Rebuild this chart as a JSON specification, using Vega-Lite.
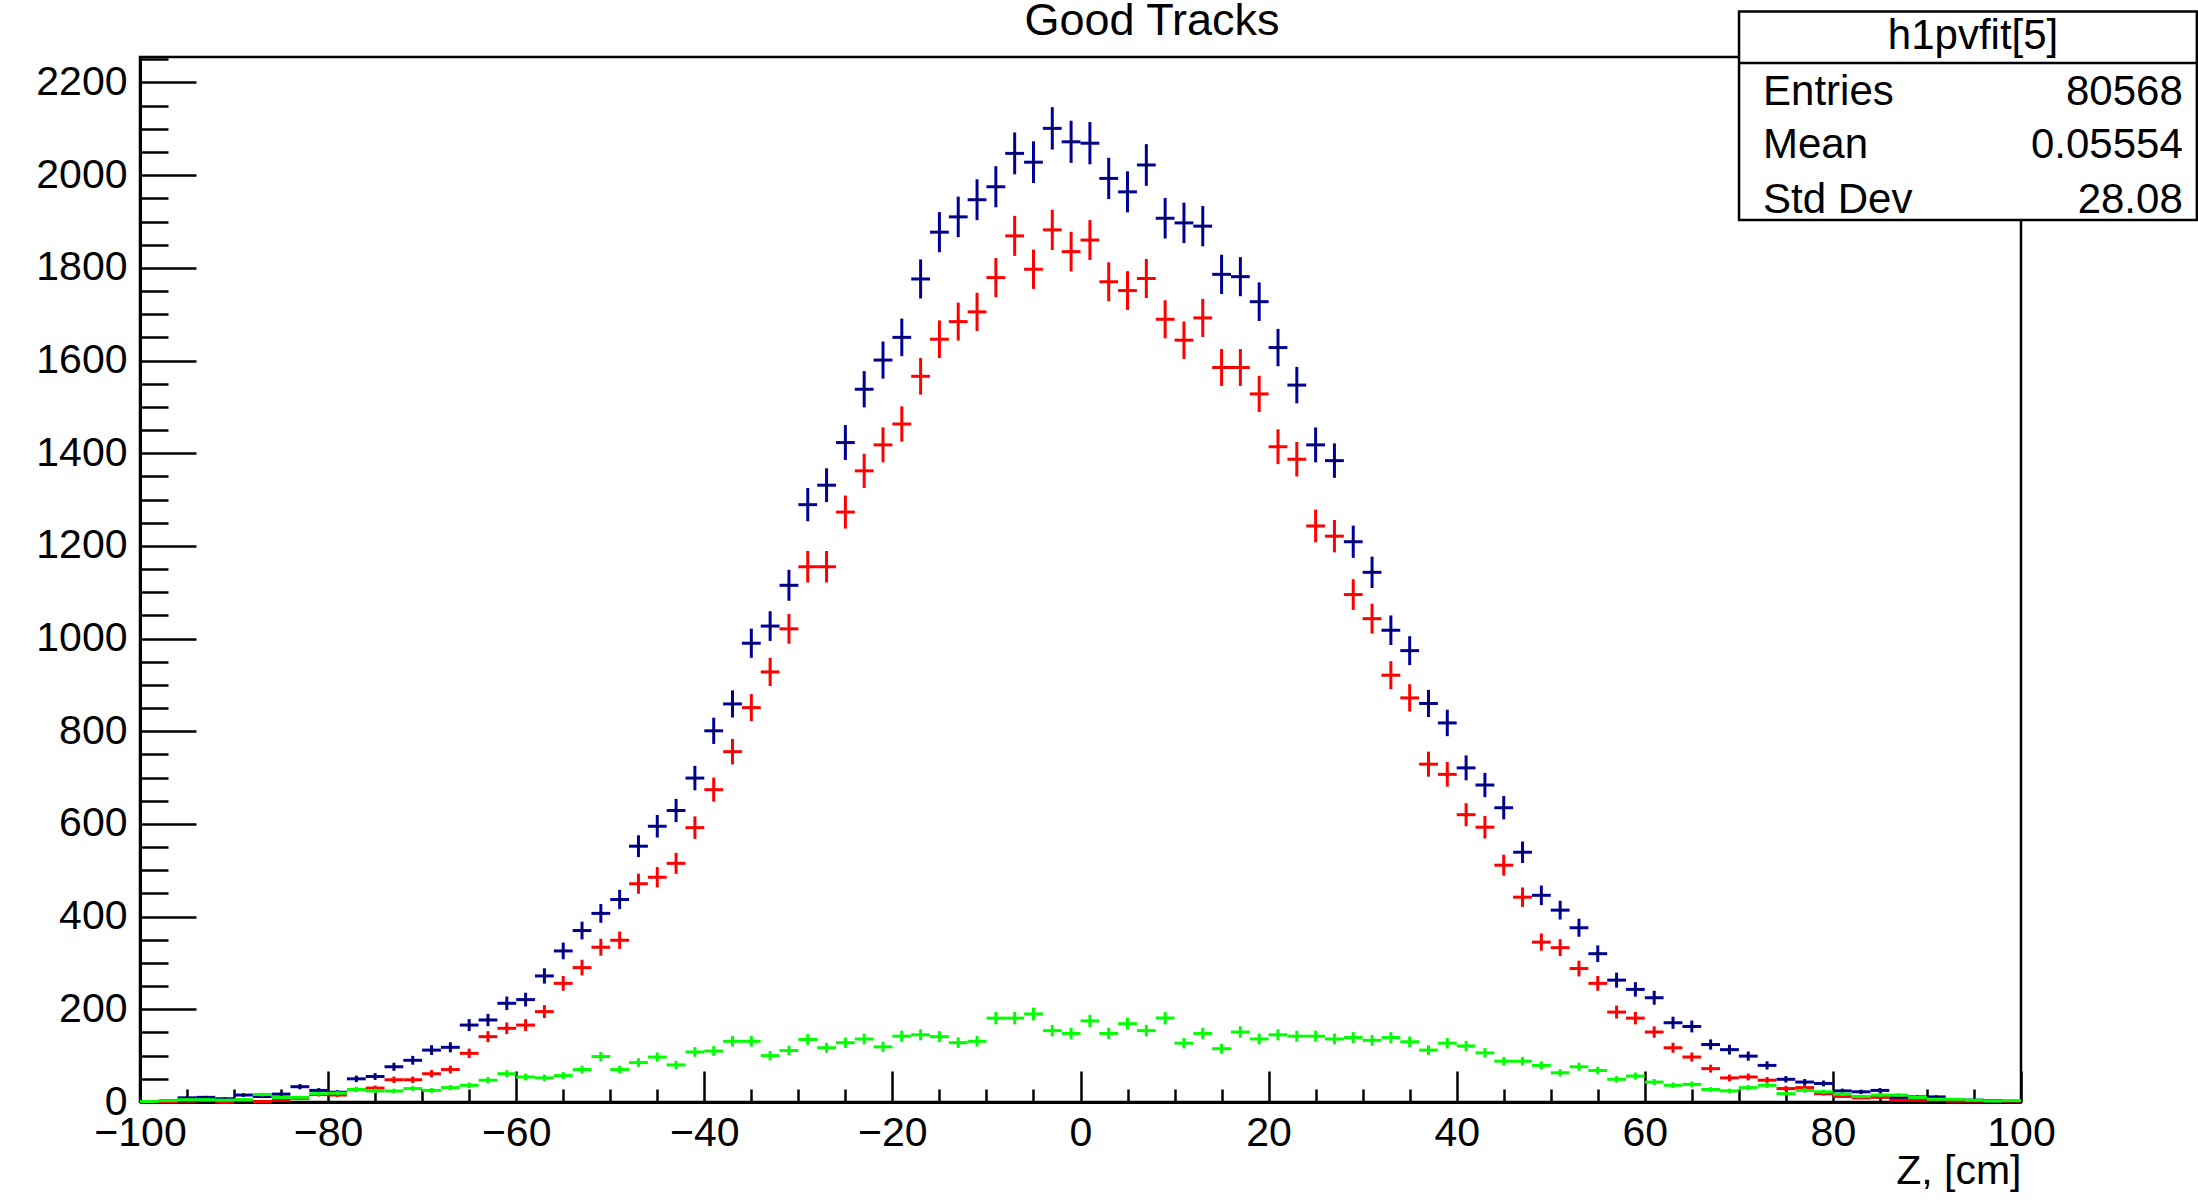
{
"$schema": "https://vega.github.io/schema/vega-lite/v6.json",
"autosize": "none",
"width": 1881,
"height": 1045,
"padding": {"left": 140, "top": 57, "right": 177, "bottom": 98},
"background": "white",
"config": {"view": {"stroke": "black", "strokeWidth": 2.5}, "font": "Liberation Sans", "axis": {"grid": false, "labelColor": "black", "titleColor": "black", "domainColor": "black", "tickColor": "black"}},
"datasets": {
"stats": [{"name": "h1pvfit[5]"}],
"h": [
{"z":-99,"s":"a","n":1,"e":1},{"z":-97,"s":"a","n":3,"e":1.7},{"z":-95,"s":"a","n":9,"e":3},{"z":-93,"s":"a","n":10,"e":3.2},{"z":-91,"s":"a","n":7,"e":2.6},{"z":-89,"s":"a","n":15,"e":3.9},{"z":-87,"s":"a","n":12,"e":3.5},{"z":-85,"s":"a","n":17,"e":4.1},{"z":-83,"s":"a","n":33,"e":5.7},{"z":-81,"s":"a","n":25,"e":5},{"z":-79,"s":"a","n":21,"e":4.6},{"z":-77,"s":"a","n":50,"e":7.1},{"z":-75,"s":"a","n":55,"e":7.4},{"z":-73,"s":"a","n":76,"e":8.7},{"z":-71,"s":"a","n":90,"e":9.5},{"z":-69,"s":"a","n":112,"e":10.6},{"z":-67,"s":"a","n":118,"e":10.9},{"z":-65,"s":"a","n":166,"e":12.9},{"z":-63,"s":"a","n":177,"e":13.3},{"z":-61,"s":"a","n":213,"e":14.6},{"z":-59,"s":"a","n":221,"e":14.9},{"z":-57,"s":"a","n":272,"e":16.5},{"z":-55,"s":"a","n":326,"e":18.1},{"z":-53,"s":"a","n":370,"e":19.2},{"z":-51,"s":"a","n":407,"e":20.2},{"z":-49,"s":"a","n":437,"e":20.9},{"z":-47,"s":"a","n":552,"e":23.5},{"z":-45,"s":"a","n":595,"e":24.4},{"z":-43,"s":"a","n":629,"e":25.1},{"z":-41,"s":"a","n":699,"e":26.4},{"z":-39,"s":"a","n":801,"e":28.3},{"z":-37,"s":"a","n":859,"e":29.3},{"z":-35,"s":"a","n":990,"e":31.5},{"z":-33,"s":"a","n":1027,"e":32},{"z":-31,"s":"a","n":1115,"e":33.4},{"z":-29,"s":"a","n":1289,"e":35.9},{"z":-27,"s":"a","n":1331,"e":36.5},{"z":-25,"s":"a","n":1423,"e":37.7},{"z":-23,"s":"a","n":1538,"e":39.2},{"z":-21,"s":"a","n":1601,"e":40},{"z":-19,"s":"a","n":1650,"e":40.6},{"z":-17,"s":"a","n":1776,"e":42.1},{"z":-15,"s":"a","n":1877,"e":43.3},{"z":-13,"s":"a","n":1910,"e":43.7},{"z":-11,"s":"a","n":1947,"e":44.1},{"z":-9,"s":"a","n":1975,"e":44.4},{"z":-7,"s":"a","n":2047,"e":45.2},{"z":-5,"s":"a","n":2028,"e":45},{"z":-3,"s":"a","n":2101,"e":45.8},{"z":-1,"s":"a","n":2072,"e":45.5},
{"z":1,"s":"a","n":2069,"e":45.5},{"z":3,"s":"a","n":1993,"e":44.6},{"z":5,"s":"a","n":1964,"e":44.3},{"z":7,"s":"a","n":2022,"e":45},{"z":9,"s":"a","n":1907,"e":43.7},{"z":11,"s":"a","n":1897,"e":43.6},{"z":13,"s":"a","n":1890,"e":43.5},{"z":15,"s":"a","n":1786,"e":42.3},{"z":17,"s":"a","n":1781,"e":42.2},{"z":19,"s":"a","n":1727,"e":41.6},{"z":21,"s":"a","n":1628,"e":40.3},{"z":23,"s":"a","n":1547,"e":39.3},{"z":25,"s":"a","n":1418,"e":37.7},{"z":27,"s":"a","n":1384,"e":37.2},{"z":29,"s":"a","n":1209,"e":34.8},{"z":31,"s":"a","n":1143,"e":33.8},{"z":33,"s":"a","n":1018,"e":31.9},{"z":35,"s":"a","n":974,"e":31.2},{"z":37,"s":"a","n":860,"e":29.3},{"z":39,"s":"a","n":818,"e":28.6},{"z":41,"s":"a","n":721,"e":26.9},{"z":43,"s":"a","n":684,"e":26.2},{"z":45,"s":"a","n":635,"e":25.2},{"z":47,"s":"a","n":539,"e":23.2},{"z":49,"s":"a","n":446,"e":21.1},{"z":51,"s":"a","n":414,"e":20.3},{"z":53,"s":"a","n":376,"e":19.4},{"z":55,"s":"a","n":320,"e":17.9},{"z":57,"s":"a","n":263,"e":16.2},{"z":59,"s":"a","n":243,"e":15.6},{"z":61,"s":"a","n":225,"e":15},{"z":63,"s":"a","n":171,"e":13.1},{"z":65,"s":"a","n":163,"e":12.8},{"z":67,"s":"a","n":124,"e":11.1},{"z":69,"s":"a","n":113,"e":10.6},{"z":71,"s":"a","n":99,"e":9.9},{"z":73,"s":"a","n":79,"e":8.9},{"z":75,"s":"a","n":49,"e":7},{"z":77,"s":"a","n":43,"e":6.6},{"z":79,"s":"a","n":40,"e":6.3},{"z":81,"s":"a","n":24,"e":4.9},{"z":83,"s":"a","n":22,"e":4.7},{"z":85,"s":"a","n":25,"e":5},{"z":87,"s":"a","n":9,"e":3},{"z":89,"s":"a","n":11,"e":3.3},{"z":91,"s":"a","n":11,"e":3.3},{"z":93,"s":"a","n":4,"e":2},{"z":95,"s":"a","n":4,"e":2},{"z":97,"s":"a","n":2,"e":1.4},{"z":99,"s":"a","n":1,"e":1},
{"z":-99,"s":"r","n":1,"e":1},{"z":-97,"s":"r","n":0,"e":0},{"z":-95,"s":"r","n":2,"e":1.4},{"z":-93,"s":"r","n":3,"e":1.7},{"z":-91,"s":"r","n":0,"e":0},{"z":-89,"s":"r","n":4,"e":2},{"z":-87,"s":"r","n":1,"e":1},{"z":-85,"s":"r","n":4,"e":2},{"z":-83,"s":"r","n":8,"e":2.8},{"z":-81,"s":"r","n":16,"e":4},{"z":-79,"s":"r","n":15,"e":3.9},{"z":-77,"s":"r","n":27,"e":5.2},{"z":-75,"s":"r","n":30,"e":5.5},{"z":-73,"s":"r","n":48,"e":6.9},{"z":-71,"s":"r","n":48,"e":6.9},{"z":-69,"s":"r","n":61,"e":7.8},{"z":-67,"s":"r","n":70,"e":8.4},{"z":-65,"s":"r","n":105,"e":10.2},{"z":-63,"s":"r","n":141,"e":11.9},{"z":-61,"s":"r","n":159,"e":12.6},{"z":-59,"s":"r","n":166,"e":12.9},{"z":-57,"s":"r","n":195,"e":14},{"z":-55,"s":"r","n":256,"e":16},{"z":-53,"s":"r","n":290,"e":17},{"z":-51,"s":"r","n":334,"e":18.3},{"z":-49,"s":"r","n":349,"e":18.7},{"z":-47,"s":"r","n":471,"e":21.7},{"z":-45,"s":"r","n":485,"e":22},{"z":-43,"s":"r","n":515,"e":22.7},{"z":-41,"s":"r","n":592,"e":24.3},{"z":-39,"s":"r","n":674,"e":26},{"z":-37,"s":"r","n":756,"e":27.5},{"z":-35,"s":"r","n":851,"e":29.2},{"z":-33,"s":"r","n":928,"e":30.5},{"z":-31,"s":"r","n":1021,"e":32},{"z":-29,"s":"r","n":1155,"e":34},{"z":-27,"s":"r","n":1155,"e":34},{"z":-25,"s":"r","n":1273,"e":35.7},{"z":-23,"s":"r","n":1362,"e":36.9},{"z":-21,"s":"r","n":1418,"e":37.7},{"z":-19,"s":"r","n":1463,"e":38.2},{"z":-17,"s":"r","n":1566,"e":39.6},{"z":-15,"s":"r","n":1646,"e":40.6},{"z":-13,"s":"r","n":1684,"e":41},{"z":-11,"s":"r","n":1705,"e":41.3},{"z":-9,"s":"r","n":1779,"e":42.2},{"z":-7,"s":"r","n":1869,"e":43.2},{"z":-5,"s":"r","n":1797,"e":42.4},{"z":-3,"s":"r","n":1882,"e":43.4},{"z":-1,"s":"r","n":1835,"e":42.8},
{"z":1,"s":"r","n":1860,"e":43.1},{"z":3,"s":"r","n":1770,"e":42.1},{"z":5,"s":"r","n":1751,"e":41.8},{"z":7,"s":"r","n":1777,"e":42.2},{"z":9,"s":"r","n":1689,"e":41.1},{"z":11,"s":"r","n":1644,"e":40.5},{"z":13,"s":"r","n":1692,"e":41.1},{"z":15,"s":"r","n":1585,"e":39.8},{"z":17,"s":"r","n":1585,"e":39.8},{"z":19,"s":"r","n":1528,"e":39.1},{"z":21,"s":"r","n":1414,"e":37.6},{"z":23,"s":"r","n":1387,"e":37.2},{"z":25,"s":"r","n":1243,"e":35.3},{"z":27,"s":"r","n":1221,"e":34.9},{"z":29,"s":"r","n":1095,"e":33.1},{"z":31,"s":"r","n":1043,"e":32.3},{"z":33,"s":"r","n":921,"e":30.3},{"z":35,"s":"r","n":872,"e":29.5},{"z":37,"s":"r","n":729,"e":27},{"z":39,"s":"r","n":707,"e":26.6},{"z":41,"s":"r","n":620,"e":24.9},{"z":43,"s":"r","n":593,"e":24.4},{"z":45,"s":"r","n":511,"e":22.6},{"z":47,"s":"r","n":442,"e":21},{"z":49,"s":"r","n":345,"e":18.6},{"z":51,"s":"r","n":333,"e":18.2},{"z":53,"s":"r","n":288,"e":17},{"z":55,"s":"r","n":256,"e":16},{"z":57,"s":"r","n":194,"e":13.9},{"z":59,"s":"r","n":181,"e":13.5},{"z":61,"s":"r","n":151,"e":12.3},{"z":63,"s":"r","n":117,"e":10.8},{"z":65,"s":"r","n":97,"e":9.8},{"z":67,"s":"r","n":72,"e":8.5},{"z":69,"s":"r","n":52,"e":7.2},{"z":71,"s":"r","n":54,"e":7.3},{"z":73,"s":"r","n":47,"e":6.9},{"z":75,"s":"r","n":29,"e":5.4},{"z":77,"s":"r","n":31,"e":5.6},{"z":79,"s":"r","n":18,"e":4.2},{"z":81,"s":"r","n":12,"e":3.5},{"z":83,"s":"r","n":9,"e":3},{"z":85,"s":"r","n":10,"e":3.2},{"z":87,"s":"r","n":4,"e":2},{"z":89,"s":"r","n":4,"e":2},{"z":91,"s":"r","n":4,"e":2},{"z":93,"s":"r","n":2,"e":1.4},{"z":95,"s":"r","n":2,"e":1.4},{"z":97,"s":"r","n":3,"e":1.7},{"z":99,"s":"r","n":2,"e":1.4},
{"z":-99,"s":"g","n":1,"e":1},{"z":-97,"s":"g","n":3,"e":1.7},{"z":-95,"s":"g","n":5,"e":2.2},{"z":-93,"s":"g","n":5,"e":2.2},{"z":-91,"s":"g","n":4,"e":2},{"z":-89,"s":"g","n":5,"e":2.2},{"z":-87,"s":"g","n":16,"e":4},{"z":-85,"s":"g","n":10,"e":3.2},{"z":-83,"s":"g","n":10,"e":3.2},{"z":-81,"s":"g","n":18,"e":4.2},{"z":-79,"s":"g","n":19,"e":4.4},{"z":-77,"s":"g","n":27,"e":5.2},{"z":-75,"s":"g","n":24,"e":4.9},{"z":-73,"s":"g","n":24,"e":4.9},{"z":-71,"s":"g","n":29,"e":5.4},{"z":-69,"s":"g","n":25,"e":5},{"z":-67,"s":"g","n":31,"e":5.6},{"z":-65,"s":"g","n":36,"e":6},{"z":-63,"s":"g","n":47,"e":6.9},{"z":-61,"s":"g","n":61,"e":7.8},{"z":-59,"s":"g","n":54,"e":7.3},{"z":-57,"s":"g","n":52,"e":7.2},{"z":-55,"s":"g","n":57,"e":7.5},{"z":-53,"s":"g","n":70,"e":8.4},{"z":-51,"s":"g","n":98,"e":9.9},{"z":-49,"s":"g","n":70,"e":8.4},{"z":-47,"s":"g","n":85,"e":9.2},{"z":-45,"s":"g","n":97,"e":9.8},{"z":-43,"s":"g","n":80,"e":8.9},{"z":-41,"s":"g","n":108,"e":10.4},{"z":-39,"s":"g","n":110,"e":10.5},{"z":-37,"s":"g","n":131,"e":11.4},{"z":-35,"s":"g","n":131,"e":11.4},{"z":-33,"s":"g","n":100,"e":10},{"z":-31,"s":"g","n":111,"e":10.5},{"z":-29,"s":"g","n":135,"e":11.6},{"z":-27,"s":"g","n":117,"e":10.8},{"z":-25,"s":"g","n":128,"e":11.3},{"z":-23,"s":"g","n":136,"e":11.7},{"z":-21,"s":"g","n":119,"e":10.9},{"z":-19,"s":"g","n":142,"e":11.9},{"z":-17,"s":"g","n":145,"e":12},{"z":-15,"s":"g","n":141,"e":11.9},{"z":-13,"s":"g","n":128,"e":11.3},{"z":-11,"s":"g","n":131,"e":11.4},{"z":-9,"s":"g","n":181,"e":13.5},{"z":-7,"s":"g","n":181,"e":13.5},{"z":-5,"s":"g","n":190,"e":13.8},{"z":-3,"s":"g","n":154,"e":12.4},{"z":-1,"s":"g","n":148,"e":12.2},
{"z":1,"s":"g","n":175,"e":13.2},{"z":3,"s":"g","n":148,"e":12.2},{"z":5,"s":"g","n":169,"e":13},{"z":7,"s":"g","n":154,"e":12.4},{"z":9,"s":"g","n":181,"e":13.5},{"z":11,"s":"g","n":127,"e":11.3},{"z":13,"s":"g","n":148,"e":12.2},{"z":15,"s":"g","n":115,"e":10.7},{"z":17,"s":"g","n":151,"e":12.3},{"z":19,"s":"g","n":136,"e":11.7},{"z":21,"s":"g","n":145,"e":12},{"z":23,"s":"g","n":142,"e":11.9},{"z":25,"s":"g","n":142,"e":11.9},{"z":27,"s":"g","n":136,"e":11.7},{"z":29,"s":"g","n":139,"e":11.8},{"z":31,"s":"g","n":133,"e":11.5},{"z":33,"s":"g","n":139,"e":11.8},{"z":35,"s":"g","n":130,"e":11.4},{"z":37,"s":"g","n":112,"e":10.6},{"z":39,"s":"g","n":127,"e":11.3},{"z":41,"s":"g","n":121,"e":11},{"z":43,"s":"g","n":106,"e":10.3},{"z":45,"s":"g","n":88,"e":9.4},{"z":47,"s":"g","n":88,"e":9.4},{"z":49,"s":"g","n":79,"e":8.9},{"z":51,"s":"g","n":63,"e":7.9},{"z":53,"s":"g","n":76,"e":8.7},{"z":55,"s":"g","n":68,"e":8.2},{"z":57,"s":"g","n":49,"e":7},{"z":59,"s":"g","n":56,"e":7.5},{"z":61,"s":"g","n":43,"e":6.6},{"z":63,"s":"g","n":36,"e":6},{"z":65,"s":"g","n":38,"e":6.2},{"z":67,"s":"g","n":27,"e":5.2},{"z":69,"s":"g","n":24,"e":4.9},{"z":71,"s":"g","n":31,"e":5.6},{"z":73,"s":"g","n":36,"e":6},{"z":75,"s":"g","n":18,"e":4.2},{"z":77,"s":"g","n":25,"e":5},{"z":79,"s":"g","n":22,"e":4.7},{"z":81,"s":"g","n":17,"e":4.1},{"z":83,"s":"g","n":12,"e":3.5},{"z":85,"s":"g","n":15,"e":3.9},{"z":87,"s":"g","n":15,"e":3.9},{"z":89,"s":"g","n":10,"e":3.2},{"z":91,"s":"g","n":6,"e":2.4},{"z":93,"s":"g","n":6,"e":2.4},{"z":95,"s":"g","n":4,"e":2},{"z":97,"s":"g","n":2,"e":1.4},{"z":99,"s":"g","n":3,"e":1.7}
]
},
"resolve": {"axis": {"x": "independent", "y": "independent"}},
"layer": [
{"data": {"name": "stats"}, "mark": {"type": "point", "opacity": 0},
 "encoding": {
  "x": {"datum": 0, "type": "quantitative", "scale": {"domain": [-100, 100], "nice": false, "zero": false},
        "axis": {"orient": "bottom", "values": [-100,-80,-60,-40,-20,0,20,40,60,80,100], "ticks": false, "tickSize": 0, "labelFontSize": 41, "labelPadding": 11, "labelFlush": false, "labelOverlap": false, "labelBound": false, "domainWidth": 3, "title": "Z, [cm]", "titleFontSize": 41, "titleFontWeight": "normal", "titleAnchor": "end", "titleBaseline": "alphabetic", "titleY": 81}},
  "y": {"datum": 0, "type": "quantitative", "scale": {"domain": [0, 2255], "nice": false, "zero": false},
        "axis": {"orient": "left", "values": [0,200,400,600,800,1000,1200,1400,1600,1800,2000,2200], "format": "d", "ticks": false, "tickSize": 0, "labelFontSize": 41, "labelPadding": 13, "labelFlush": false, "labelOverlap": false, "labelBound": false, "domainWidth": 3, "title": null}}
 }},
{"data": {"name": "stats"}, "mark": {"type": "point", "opacity": 0},
 "encoding": {
  "x": {"datum": 0, "type": "quantitative", "scale": {"domain": [-100, 100], "nice": false, "zero": false},
        "axis": {"orient": "bottom", "values": [-100,-80,-60,-40,-20,0,20,40,60,80,100], "labels": false, "domain": false, "tickSize": -31, "tickWidth": 2.5, "title": null}},
  "y": {"datum": 0, "type": "quantitative", "scale": {"domain": [0, 2255], "nice": false, "zero": false},
        "axis": {"orient": "left", "values": [0,200,400,600,800,1000,1200,1400,1600,1800,2000,2200], "labels": false, "domain": false, "tickSize": -56, "tickWidth": 2.5, "title": null}}
 }},
{"data": {"name": "stats"}, "mark": {"type": "point", "opacity": 0},
 "encoding": {
  "x": {"datum": 0, "type": "quantitative", "scale": {"domain": [-100, 100], "nice": false, "zero": false},
        "axis": {"orient": "bottom", "values": [-95,-90,-85,-75,-70,-65,-55,-50,-45,-35,-30,-25,-15,-10,-5,5,10,15,25,30,35,45,50,55,65,70,75,85,90,95], "labels": false, "domain": false, "tickSize": -13, "tickWidth": 2.5, "title": null}},
  "y": {"datum": 0, "type": "quantitative", "scale": {"domain": [0, 2255], "nice": false, "zero": false},
        "axis": {"orient": "left", "values": [50,100,150,250,300,350,450,500,550,650,700,750,850,900,950,1050,1100,1150,1250,1300,1350,1450,1500,1550,1650,1700,1750,1850,1900,1950,2050,2100,2150,2250], "labels": false, "domain": false, "tickSize": -28, "tickWidth": 2.5, "title": null}}
 }},
{"data": {"name": "h"}, "transform": [{"filter": "datum.s == 'a'"}], "mark": {"type": "errorbar", "color": "#000099", "thickness": 3},
 "encoding": {"x": {"field": "z", "type": "quantitative", "scale": {"domain": [-100, 100], "nice": false, "zero": false}, "axis": null},
  "y": {"field": "n", "type": "quantitative", "scale": {"domain": [0, 2255], "nice": false, "zero": false}, "axis": null},
  "yError": {"field": "e"}}},
{"data": {"name": "h"}, "transform": [{"filter": "datum.s == 'a'"}], "mark": {"type": "tick", "orient": "horizontal", "color": "#000099", "size": 18.8, "thickness": 3, "opacity": 1},
 "encoding": {"x": {"field": "z", "type": "quantitative", "scale": {"domain": [-100, 100], "nice": false, "zero": false}, "axis": null},
  "y": {"field": "n", "type": "quantitative", "scale": {"domain": [0, 2255], "nice": false, "zero": false}, "axis": null}}},
{"data": {"name": "h"}, "transform": [{"filter": "datum.s == 'a'"}], "mark": {"type": "square", "color": "black", "size": 5, "opacity": 1},
 "encoding": {"x": {"field": "z", "type": "quantitative", "scale": {"domain": [-100, 100], "nice": false, "zero": false}, "axis": null},
  "y": {"field": "n", "type": "quantitative", "scale": {"domain": [0, 2255], "nice": false, "zero": false}, "axis": null}}},
{"data": {"name": "h"}, "transform": [{"filter": "datum.s == 'r'"}], "mark": {"type": "errorbar", "color": "#ff0000", "thickness": 3},
 "encoding": {"x": {"field": "z", "type": "quantitative", "scale": {"domain": [-100, 100], "nice": false, "zero": false}, "axis": null},
  "y": {"field": "n", "type": "quantitative", "scale": {"domain": [0, 2255], "nice": false, "zero": false}, "axis": null},
  "yError": {"field": "e"}}},
{"data": {"name": "h"}, "transform": [{"filter": "datum.s == 'r'"}], "mark": {"type": "tick", "orient": "horizontal", "color": "#ff0000", "size": 18.8, "thickness": 3, "opacity": 1},
 "encoding": {"x": {"field": "z", "type": "quantitative", "scale": {"domain": [-100, 100], "nice": false, "zero": false}, "axis": null},
  "y": {"field": "n", "type": "quantitative", "scale": {"domain": [0, 2255], "nice": false, "zero": false}, "axis": null}}},
{"data": {"name": "h"}, "transform": [{"filter": "datum.s == 'g'"}], "mark": {"type": "errorbar", "color": "#00ff00", "thickness": 3},
 "encoding": {"x": {"field": "z", "type": "quantitative", "scale": {"domain": [-100, 100], "nice": false, "zero": false}, "axis": null},
  "y": {"field": "n", "type": "quantitative", "scale": {"domain": [0, 2255], "nice": false, "zero": false}, "axis": null},
  "yError": {"field": "e"}}},
{"data": {"name": "h"}, "transform": [{"filter": "datum.s == 'g'"}], "mark": {"type": "tick", "orient": "horizontal", "color": "#00ff00", "size": 18.8, "thickness": 3, "opacity": 1},
 "encoding": {"x": {"field": "z", "type": "quantitative", "scale": {"domain": [-100, 100], "nice": false, "zero": false}, "axis": null},
  "y": {"field": "n", "type": "quantitative", "scale": {"domain": [0, 2255], "nice": false, "zero": false}, "axis": null}}},
{"data": {"name": "stats"}, "mark": {"type": "rect", "fill": "white", "stroke": "black", "strokeWidth": 2.5},
 "encoding": {"x": {"datum": 70.02, "type": "quantitative", "scale": {"domain": [-100, 100], "nice": false, "zero": false}, "axis": null}, "x2": {"datum": 118.7},
  "y": {"datum": 2353, "type": "quantitative", "scale": {"domain": [0, 2255], "nice": false, "zero": false}, "axis": null}, "y2": {"datum": 1903}}},
{"data": {"name": "stats"}, "mark": {"type": "rule", "color": "black", "strokeWidth": 2.5},
 "encoding": {"x": {"datum": 70.02, "type": "quantitative", "scale": {"domain": [-100, 100], "nice": false, "zero": false}, "axis": null}, "x2": {"datum": 118.7},
  "y": {"datum": 2242, "type": "quantitative", "scale": {"domain": [0, 2255], "nice": false, "zero": false}, "axis": null}}},
{"data": {"name": "stats"}, "mark": {"type": "text", "fontSize": 42, "align": "center", "baseline": "alphabetic", "color": "black"},
 "encoding": {"x": {"datum": 94.9, "type": "quantitative", "scale": {"domain": [-100, 100], "nice": false, "zero": false}, "axis": null},
  "y": {"datum": 2272, "type": "quantitative", "scale": {"domain": [0, 2255], "nice": false, "zero": false}, "axis": null}, "text": {"field": "name"}}},
{"data": {"name": "stats"}, "mark": {"type": "text", "fontSize": 42, "align": "left", "baseline": "alphabetic", "color": "black"},
 "encoding": {"x": {"datum": 72.57, "type": "quantitative", "scale": {"domain": [-100, 100], "nice": false, "zero": false}, "axis": null},
  "y": {"datum": 2151, "type": "quantitative", "scale": {"domain": [0, 2255], "nice": false, "zero": false}, "axis": null}, "text": {"value": "Entries"}}},
{"data": {"name": "stats"}, "mark": {"type": "text", "fontSize": 42, "align": "left", "baseline": "alphabetic", "color": "black"},
 "encoding": {"x": {"datum": 72.57, "type": "quantitative", "scale": {"domain": [-100, 100], "nice": false, "zero": false}, "axis": null},
  "y": {"datum": 2037, "type": "quantitative", "scale": {"domain": [0, 2255], "nice": false, "zero": false}, "axis": null}, "text": {"value": "Mean"}}},
{"data": {"name": "stats"}, "mark": {"type": "text", "fontSize": 42, "align": "left", "baseline": "alphabetic", "color": "black"},
 "encoding": {"x": {"datum": 72.57, "type": "quantitative", "scale": {"domain": [-100, 100], "nice": false, "zero": false}, "axis": null},
  "y": {"datum": 1918, "type": "quantitative", "scale": {"domain": [0, 2255], "nice": false, "zero": false}, "axis": null}, "text": {"value": "Std Dev"}}},
{"data": {"name": "stats"}, "mark": {"type": "text", "fontSize": 42, "align": "right", "baseline": "alphabetic", "color": "black"},
 "encoding": {"x": {"datum": 117.2, "type": "quantitative", "scale": {"domain": [-100, 100], "nice": false, "zero": false}, "axis": null},
  "y": {"datum": 2151, "type": "quantitative", "scale": {"domain": [0, 2255], "nice": false, "zero": false}, "axis": null}, "text": {"value": "80568"}}},
{"data": {"name": "stats"}, "mark": {"type": "text", "fontSize": 42, "align": "right", "baseline": "alphabetic", "color": "black"},
 "encoding": {"x": {"datum": 117.2, "type": "quantitative", "scale": {"domain": [-100, 100], "nice": false, "zero": false}, "axis": null},
  "y": {"datum": 2037, "type": "quantitative", "scale": {"domain": [0, 2255], "nice": false, "zero": false}, "axis": null}, "text": {"value": "0.05554"}}},
{"data": {"name": "stats"}, "mark": {"type": "text", "fontSize": 42, "align": "right", "baseline": "alphabetic", "color": "black"},
 "encoding": {"x": {"datum": 117.2, "type": "quantitative", "scale": {"domain": [-100, 100], "nice": false, "zero": false}, "axis": null},
  "y": {"datum": 1918, "type": "quantitative", "scale": {"domain": [0, 2255], "nice": false, "zero": false}, "axis": null}, "text": {"value": "28.08"}}},
{"data": {"name": "stats"}, "mark": {"type": "text", "fontSize": 45, "align": "center", "baseline": "alphabetic", "color": "black"},
 "encoding": {"x": {"datum": 7.6, "type": "quantitative", "scale": {"domain": [-100, 100], "nice": false, "zero": false}, "axis": null},
  "y": {"datum": 2302, "type": "quantitative", "scale": {"domain": [0, 2255], "nice": false, "zero": false}, "axis": null}, "text": {"value": "Good Tracks"}}}
]
}
